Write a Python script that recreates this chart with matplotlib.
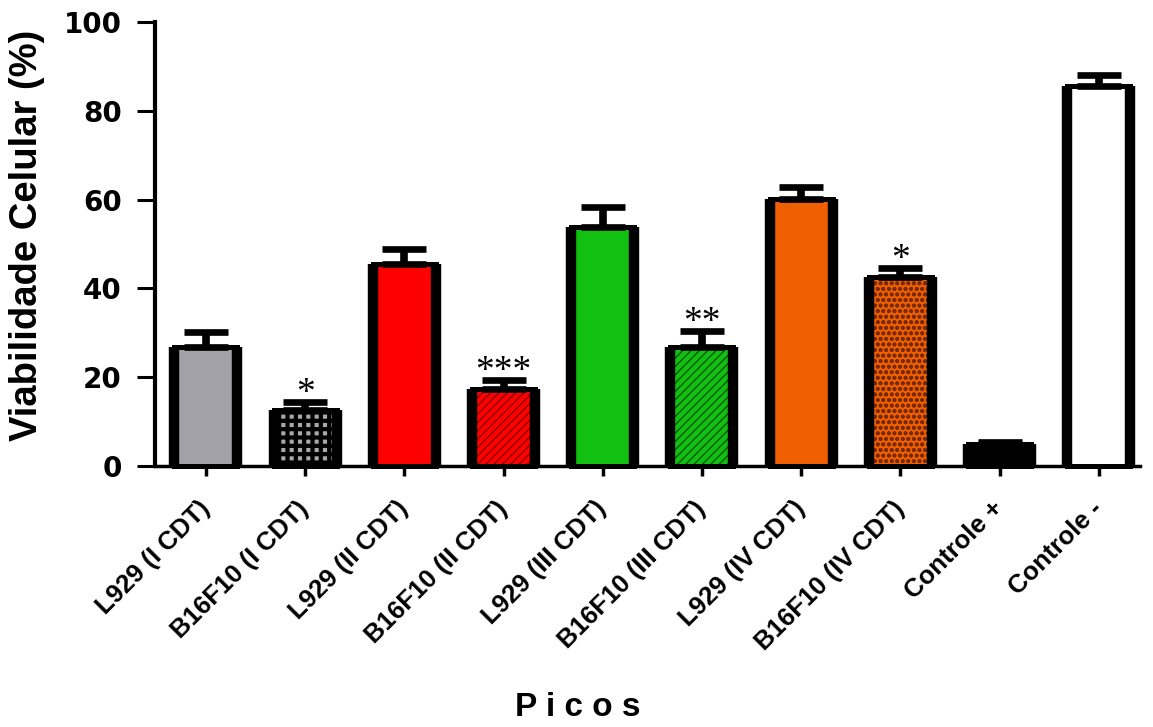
import numpy as np
import matplotlib
matplotlib.use("Agg")
import matplotlib.pyplot as plt

# Cell viability per peak / cell line
categories = ["L929 (I CDT)", "B16F10 (I CDT)", "L929 (II CDT)", "B16F10 (II CDT)",
              "L929 (III CDT)", "B16F10 (III CDT)", "L929 (IV CDT)", "B16F10 (IV CDT)",
              "Controle +", "Controle -"]
viability = [26.8, 12.6, 45.5, 17.3, 53.8, 26.8, 60.1, 42.6, 5.0, 85.6]
sem = [3.4, 1.8, 3.4, 2.1, 4.5, 3.6, 2.7, 2.0, 0.5, 2.4]
significance = ["", "*", "", "***", "", "**", "", "*", "", ""]
y_ticks = [0, 20, 40, 60, 80, 100]

face_colors = ["#a2a1a7", "#a8a8a8", "#ff0000", "#ff0000", "#12c012",
               "#12c012", "#f06000", "#f06000", "#000000", "#ffffff"]
hatches = [None, "++", None, "////", None, "////", None, "ooo", None, None]
hatch_colors = [None, "#000000", None, "#8a0000", None, "#0a5a0a", None, "#7a2a00", None, None]
hatch_widths = [None, 3.0, None, 1.0, None, 1.0, None, 1.2, None, None]

fig = plt.figure(figsize=(11.53, 7.27), dpi=100)
ax = fig.add_axes([0.1344, 0.359, 0.8543, 0.6107])

x = np.arange(len(categories))
width = 0.635

# filled bars
ax.bar(x, viability, width=width, color=face_colors, linewidth=0, zorder=2)

# hatch overlays
for xi, v, h, hc, hw in zip(x, viability, hatches, hatch_colors, hatch_widths):
    if h is None:
        continue
    plt.rcParams["hatch.linewidth"] = hw
    b = ax.bar(xi, v, width=width, facecolor="none", edgecolor=hc,
               hatch=h, linewidth=0, zorder=3)
    for p in b.patches:
        if hasattr(p, "set_hatch_linewidth"):
            p.set_hatch_linewidth(hw)

# outlines: thin top, heavy sides
ax.bar(x, viability, width=width, facecolor="none", edgecolor="black",
       linewidth=3.6, zorder=4, clip_on=False)
xs = np.asarray(x, dtype=float)
for side in (-1, 1):
    ax.vlines(xs + side * width / 2, 0, viability, colors="black",
              linewidth=7.5, zorder=5, clip_on=False)

# upper error bars
ax.errorbar(x, viability, yerr=[np.zeros(len(sem)), sem], fmt="none",
            ecolor="black", elinewidth=5.5, capsize=15.5, capthick=4.8,
            zorder=6, clip_on=False)

# significance marks
for xi, v, e, s in zip(x, viability, sem, significance):
    if s:
        ax.annotate(s, (xi, v + e), xytext=(0, 6), textcoords="offset points",
                    ha="center", va="center", fontsize=27,
                    family="Liberation Serif", color="black", zorder=7)

ax.set_xlim(-0.514, 9.415)
ax.set_ylim(0, 100)
ax.set_yticks(y_ticks)
ax.set_yticklabels([str(t) for t in y_ticks], fontsize=20, fontweight="bold",
                   family="DejaVu Sans")
ax.set_xticks(x)
ax.set_xticklabels(categories, rotation=45, ha="right", va="center",
                   rotation_mode="anchor", fontsize=18.5, fontweight="bold",
                   family="Liberation Sans")

for side in ("top", "right"):
    ax.spines[side].set_visible(False)
ax.spines["left"].set_linewidth(3.0)
ax.spines["bottom"].set_linewidth(2.5)

ax.tick_params(axis="y", direction="out", length=13, width=2.2, pad=11, colors="black")
ax.tick_params(axis="x", direction="out", length=7, width=2.5, pad=21, colors="black")

ax.set_ylabel("Viabilidade Celular (%)", fontsize=27.5, fontweight="bold",
              family="Liberation Sans")
ax.yaxis.set_label_coords(-0.112, 0.52)

fig.text(578 / 1153, 1 - 708 / 727, "P i c o s", ha="center", va="center",
         fontsize=24, fontweight="bold", family="Liberation Sans")

fig.savefig("out.png", dpi=100, facecolor="white")
